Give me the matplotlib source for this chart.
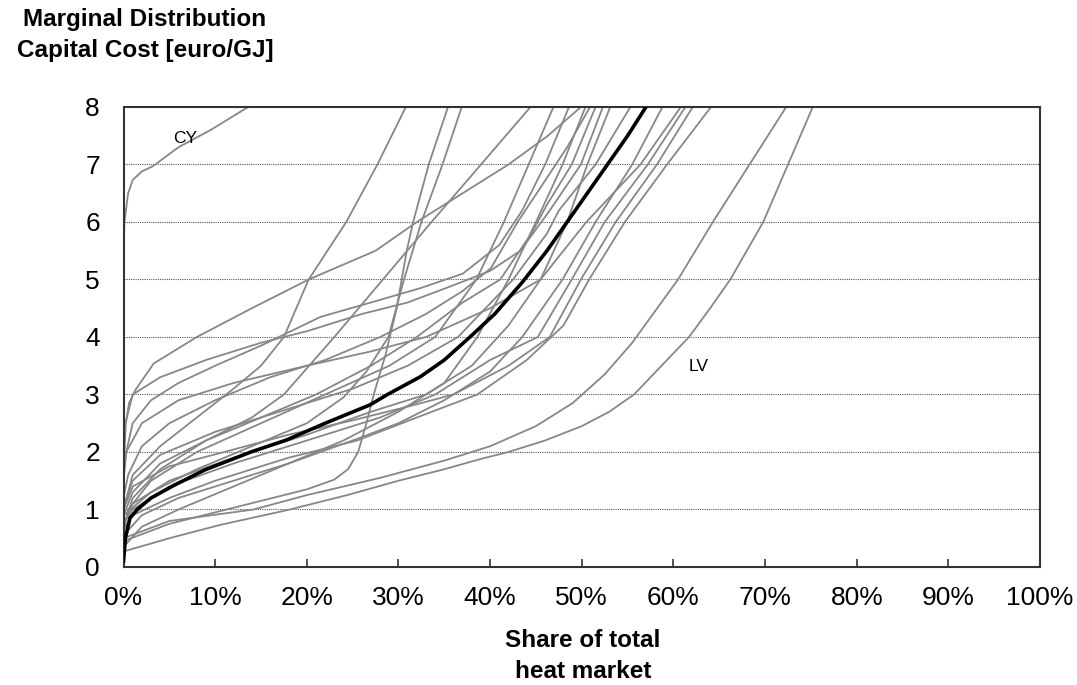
#!/usr/bin/env python3
"""
Marginal distribution capital cost curves per country vs share of heat market.
"""

import matplotlib

matplotlib.use('Agg')
import matplotlib.pyplot as plt

# ---- data: (share of heat market [%], marginal cost [euro/GJ]) ----
curve_cy = [(0, 5.5), (0.1, 6.0), (0.5, 6.5), (1, 6.73), (2, 6.88), (3.2, 6.97),
            (6, 7.3), (9.5, 7.6), (13.6, 8.0)]
curve_g01 = [(0, 1.0), (1, 1.6), (4, 2.1), (8, 2.6), (12, 3.1), (15, 3.5), (17.5, 4.0),
             (20.2, 5.0), (24.3, 6.0), (27.7, 7.0), (30.8, 8.0)]
curve_g02 = [(0, 1.3), (0.1, 2.0), (0.25, 2.5), (0.6, 2.85), (1.3, 3.08), (3.3, 3.54),
             (8, 4.0), (14, 4.5), (20.2, 5.0), (27.5, 5.5), (32, 6.0), (37, 6.5),
             (42, 7.0), (46.3, 7.5), (49.9, 8.0)]
curve_g03 = [(0, 0.7), (1, 1.2), (4, 1.7), (9, 2.2), (14, 2.6), (17.5, 3.0), (23, 4.0),
             (28.3, 5.0), (33.6, 6.0), (39, 7.0), (44.4, 8.0)]
curve_g04 = [(0, 0.45), (5, 0.75), (10, 0.95), (15, 1.15), (20, 1.35), (23, 1.52),
             (24.5, 1.7), (25.6, 2.0), (26.5, 2.5), (27.3, 3.0), (28.6, 3.7), (29.8, 4.5),
             (30.9, 5.5), (31.6, 6.0), (33.3, 7.0), (35.4, 8.0)]
curve_g05 = [(0, 0.9), (3, 1.3), (8, 1.7), (14, 2.1), (20, 2.5), (24, 2.95), (26.5, 3.4),
             (28.9, 4.0), (30.6, 5.0), (32.5, 6.0), (34.8, 7.0), (36.9, 8.0)]
curve_g06 = [(0, 0.6), (0.5, 1.0), (3, 1.5), (8, 2.0), (15, 2.5), (22, 3.0), (29, 3.5),
             (34, 4.0), (38.5, 5.0), (41.5, 6.0), (44.2, 7.0), (46.9, 8.0)]
curve_g07 = [(0, 1.5), (0.3, 2.0), (1, 2.5), (3, 2.9), (6, 3.2), (10, 3.5), (15, 3.85),
             (21.5, 4.35), (27, 4.6), (32.4, 4.85), (37, 5.1), (41, 5.6), (43.5, 6.2),
             (46, 7.0), (48.6, 8.0)]
curve_g08 = [(0, 0.35), (2, 0.7), (6, 1.0), (12, 1.4), (18, 1.8), (24, 2.2), (30, 2.7),
             (35, 3.2), (38.6, 4.0), (42, 5.0), (45, 6.0), (47.9, 7.0), (50.4, 8.0)]
curve_g09 = [(0, 1.2), (0.5, 1.6), (2, 2.1), (5, 2.5), (10, 2.9), (16, 3.3), (22, 3.6),
             (28, 4.0), (33, 4.4), (37, 4.8), (40.1, 5.2), (43, 6.0), (45.5, 6.6),
             (48.4, 7.3), (50.9, 8.0)]
curve_g10 = [(0, 0.9), (1, 1.3), (4, 1.8), (9, 2.2), (15, 2.6), (21, 3.0), (27, 3.5),
             (32, 4.0), (37, 4.6), (41.1, 5.0), (44.5, 5.8), (46.2, 6.3), (48.9, 7.0),
             (51.5, 8.0)]
curve_g11 = [(0, 2.0), (0.2, 2.5), (1, 3.0), (4, 3.3), (9, 3.6), (15, 3.9), (20, 4.1),
             (26, 4.4), (31, 4.6), (36, 4.9), (40, 5.15), (43.3, 5.5), (46.5, 6.2),
             (49.9, 7.0), (52.3, 8.0)]
curve_g12 = [(0, 0.75), (1, 1.1), (5, 1.5), (12, 1.9), (20, 2.3), (27, 2.7), (33, 3.0),
             (38, 3.5), (42, 4.2), (45.5, 5.0), (48.4, 6.0), (50.6, 7.0), (53.1, 8.0)]
curve_g13 = [(0, 1.05), (1, 1.5), (4, 1.95), (10, 2.35), (18, 2.75), (25, 3.1), (31, 3.5),
             (36.5, 4.0), (42.5, 5.0), (46.2, 5.8), (47.5, 6.2), (51.5, 7.0), (55.3, 8.0)]
curve_g14 = [(0, 0.55), (2, 0.9), (6, 1.2), (12, 1.5), (18, 1.8), (25, 2.2), (30, 2.5),
             (35, 2.9), (40, 3.4), (43.5, 4.0), (47.9, 5.0), (51.5, 6.0), (55.5, 7.0),
             (58.8, 8.0)]
curve_g15 = [(0, 1.6), (0.3, 2.0), (2, 2.5), (6, 2.9), (12, 3.2), (20, 3.5), (27, 3.75),
             (33, 4.0), (40, 4.5), (45.5, 5.0), (50.5, 6.0), (56.4, 7.0), (60.8, 8.0)]
curve_g16 = [(0, 0.75), (1, 1.0), (5, 1.4), (12, 1.8), (20, 2.2), (28, 2.6), (34, 3.0),
             (40, 3.6), (45.2, 4.0), (48.9, 5.0), (52.5, 6.0), (57.2, 7.0), (61.3, 8.0)]
curve_g17 = [(0, 1.0), (1, 1.4), (5, 1.75), (11, 2.0), (18, 2.3), (25, 2.55), (31.3, 2.8),
             (36, 3.0), (42, 3.5), (46.5, 4.0), (49.9, 5.0), (53.7, 6.0), (58.2, 7.0),
             (62.1, 8.0)]
curve_g18 = [(0, 0.65), (1, 0.9), (5, 1.2), (10, 1.5), (18, 1.9), (25.5, 2.2), (32, 2.6),
             (38.6, 3.0), (44, 3.6), (48, 4.2), (50.8, 5.0), (54.7, 6.0), (59.3, 7.0),
             (64.1, 8.0)]
curve_g19 = [(0, 0.5), (5, 0.8), (14.2, 1.0), (20, 1.25), (28, 1.55), (35, 1.85), (40, 2.1),
             (45, 2.45), (49, 2.85), (52.5, 3.35), (55.5, 3.9), (58, 4.45), (60.5, 5.0),
             (64.3, 6.0), (68.3, 7.0), (72.3, 8.0)]
curve_lv = [(0, 0.27), (5, 0.5), (10.5, 0.73), (17.9, 0.99), (24.4, 1.25), (30, 1.5),
            (35, 1.7), (39, 1.88), (42, 2.0), (46, 2.2), (50, 2.45), (53, 2.7),
            (55.7, 3.0), (58.7, 3.5), (61.7, 4.0), (64, 4.5), (66.2, 5.0), (69.8, 6.0),
            (72.5, 7.0), (75.2, 8.0)]

# EU average (bold black)
curve_avg = [(0, 0.1), (0.2, 0.5), (0.7, 0.85), (1.5, 1.0), (3, 1.2), (5.5, 1.42),
             (8.9, 1.69), (13.9, 2.0), (17.8, 2.21), (22, 2.5), (26.9, 2.82), (28.8, 3.0),
             (32.4, 3.31), (35, 3.6), (37.8, 4.0), (40.5, 4.4), (43.5, 4.95), (46.2, 5.5),
             (48.4, 6.0), (50.6, 6.5), (52.8, 7.0), (55, 7.5), (57, 8.0)]

gray_curves = [curve_cy, curve_g01, curve_g02, curve_g03, curve_g04, curve_g05, curve_g06,
               curve_g07, curve_g08, curve_g09, curve_g10, curve_g11, curve_g12, curve_g13,
               curve_g14, curve_g15, curve_g16, curve_g17, curve_g18, curve_g19, curve_lv]

x_ticks = [0, 10, 20, 30, 40, 50, 60, 70, 80, 90, 100]
x_tick_labels = [f"{t}%" for t in x_ticks]
y_ticks = [0, 1, 2, 3, 4, 5, 6, 7, 8]

plt.rcParams['font.family'] = ['Liberation Sans', 'DejaVu Sans']

fig = plt.figure(figsize=(10.77, 6.85), dpi=100)
ax = fig.add_axes([0.1147, 0.1723, 0.851, 0.6715])

for curve in gray_curves:
    xs = [p[0] for p in curve]
    ys = [p[1] for p in curve]
    ax.plot(xs, ys, color='#878787', linewidth=1.3, solid_joinstyle='round',
            solid_capstyle='round', zorder=2)

ax.plot([p[0] for p in curve_avg], [p[1] for p in curve_avg],
        color='black', linewidth=2.6, solid_joinstyle='round', zorder=3)

ax.set_xlim(0, 100)
ax.set_ylim(0, 8)

for y in y_ticks[1:-1]:
    ax.axhline(y, color='#555555', linewidth=0.8, linestyle=(0, (1, 1)), zorder=1)

ax.set_xticks(x_ticks)
ax.set_xticklabels(x_tick_labels)
ax.set_yticks(y_ticks)
ax.tick_params(axis='x', direction='in', length=6, width=1.2, color='#333333',
               labelsize=19, pad=14)
ax.tick_params(axis='y', length=0, labelsize=19, pad=17)

for spine in ax.spines.values():
    spine.set_linewidth(1.5)
    spine.set_color('#333333')

ax.text(6.7, 7.46, 'CY', fontsize=12.5, ha='center', va='center')
ax.text(62.8, 3.48, 'LV', fontsize=12.5, ha='center', va='center')

fig.text(145 / 1077, 1 - 8 / 685, 'Marginal Distribution\nCapital Cost [euro/GJ]',
         fontsize=17.5, fontweight='bold', ha='center', va='top', linespacing=1.42)
fig.text(583 / 1077, 1 - 629 / 685, 'Share of total\nheat market',
         fontsize=17.5, fontweight='bold', ha='center', va='top', linespacing=1.42)

fig.savefig('out.png', dpi=100)
